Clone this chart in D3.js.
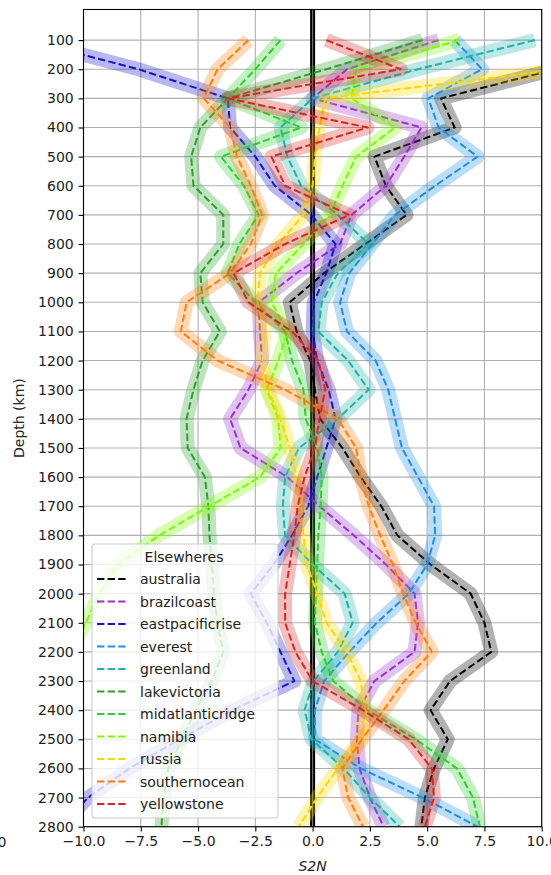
<!DOCTYPE html>
<html>
<head>
<meta charset="utf-8">
<script src="https://cdn.jsdelivr.net/npm/d3@7"></script>
<style>
  body { margin: 0; background: #fff; }
  text { font-family: "DejaVu Sans", sans-serif; }
</style>
</head>
<body>
<svg id="chart" width="551" height="875"></svg>
<script>
// Depth levels (km) shared by every profile
const depths = [100, 200, 300, 400, 500, 600, 700, 800, 900, 1000, 1100, 1200, 1300, 1400,
                1500, 1600, 1700, 1800, 1900, 2000, 2100, 2200, 2300, 2400, 2500, 2600, 2700, 2800];

// S2N profiles per region, one value per depth level
const australia        = [11.5, 10.6, 5.6, 6.2, 2.7, 3.2, 4.1, 2.3, 0.5, -1.0, -0.7, -0.1, 0.1, 0.33, 1.3, 2.1, 3.0, 3.7, 5.15, 6.9, 7.5, 7.8, 6.0, 5.15, 5.9, 5.3, 4.9, 4.75];
const brazilcoast      = [5.5, 1.5, 0.0, 4.75, 4.0, 3.2, 1.7, 1.2, -0.7, -2.35, -2.3, -2.2, -2.8, -3.6, -3.15, -1.1, 0.3, 1.8, 3.2, 4.45, 4.6, 4.45, 2.7, 2.0, 1.93, 2.05, 2.5, 3.1];
const eastpacificrise  = [-12.5, -7.6, -3.7, -3.6, -2.5, -1.65, -0.05, 1.0, 0.6, 0.05, 0.0, 0.2, 0.7, 1.0, 0.6, 0.2, -0.2, -0.9, -1.7, -2.7, -2.0, -1.4, -0.8, -3.5, -5.8, -8.0, -9.8, -11.0];
const everest          = [6.2, 7.4, 5.05, 5.5, 7.2, 5.35, 3.6, 2.6, 1.6, 1.2, 1.5, 2.75, 3.3, 3.6, 3.9, 4.6, 5.3, 5.35, 5.0, 4.2, 2.8, 1.6, 0.5, 0.1, 0.1, 2.1, 4.8, 7.2];
const greenland        = [9.7, 4.6, 0.0, -1.4, -1.1, -0.5, 1.1, 2.45, 1.1, 0.4, 0.25, 1.55, 2.45, 1.1, -0.6, -1.2, -1.3, -1.2, 0.0, 1.4, 1.75, 1.1, 0.05, -0.35, -0.05, 1.35, 2.5, 3.8];
const lakevictoria     = [4.8, 0.6, -3.7, -4.9, -5.3, -5.2, -3.9, -3.9, -4.9, -4.8, -4.05, -4.8, -5.2, -5.5, -5.45, -4.7, -4.55, -4.5, -4.4, -4.3, -4.15, -3.9, -4.4, -5.1, -5.7, -6.3, -6.5, -6.6];
const midatlanticridge = [-1.4, -2.5, -3.7, -0.5, -4.0, -3.0, -2.35, -3.2, -3.7, -2.5, -1.2, -0.9, -0.4, -0.3, 0.2, 0.4, 0.35, 0.25, 0.2, 0.15, 0.1, 0.4, 0.9, 2.4, 4.5, 6.3, 7.0, 7.3];
const namibia          = [6.4, 1.9, 1.7, 3.6, 1.9, 1.3, 0.75, -0.4, -1.6, -1.8, -1.1, -1.5, -2.0, -1.5, -1.4, -2.3, -4.5, -6.7, -8.5, -9.3, -9.9, -10.6, -11.0, -11.3, -11.6, -11.8, -12.0, -12.2];
const russia           = [12.0, 10.9, 0.55, 0.3, 0.1, 0.0, -0.4, -1.5, -2.3, -2.4, -2.1, -2.2, -1.95, -1.4, -1.0, -0.7, -0.5, -0.4, -0.25, 0.2, 0.6, 1.5, 2.1, 2.3, 2.1, 1.1, 0.2, -0.6];
const southernocean    = [-2.8, -4.15, -4.75, -3.6, -3.3, -2.7, -2.2, -2.7, -3.6, -5.5, -5.75, -4.15, -1.2, 1.1, 1.9, 2.1, 2.45, 2.95, 3.5, 3.95, 4.5, 5.2, 4.0, 3.1, 2.15, 1.3, 1.55, 2.2];
const yellowstone      = [0.6, 3.85, -3.7, 2.4, -1.8, -1.2, 1.6, -1.2, -3.45, -2.8, -0.9, 0.25, 0.55, 0.3, 0.1, -0.35, -0.65, -0.8, -1.0, -1.2, -1.2, -0.75, 0.0, 2.2, 4.2, 5.2, 5.3, 4.9];

const siteNames  = ["australia", "brazilcoast", "eastpacificrise", "everest", "greenland", "lakevictoria",
                    "midatlanticridge", "namibia", "russia", "southernocean", "yellowstone"];
const siteValues = [australia, brazilcoast, eastpacificrise, everest, greenland, lakevictoria,
                    midatlanticridge, namibia, russia, southernocean, yellowstone];
const siteColors = ["#000000", "#9932cc", "#1515c8", "#1f8fe0", "#20b2aa", "#2ca02c",
                    "#32cd32", "#7cfc00", "#ffd700", "#ff7f0e", "#d62728"];

const xTicks = [-10, -7.5, -5, -2.5, 0, 2.5, 5, 7.5, 10];
const yTicks = depths;
const legendTitle = "Elsewheres";
const xLabel = "S2N";
const yLabel = "Depth (km)";

// ---- layout ----
const box = { left: 83.5, right: 541.7, top: 9.5, bottom: 826.7 };
const x = d3.scaleLinear().domain([-10, 10]).range([box.left, box.right]);
const y = d3.scaleLinear().domain([-5, 2800]).range([box.top, box.bottom]);
const fmtX = d => d3.format(".1f")(d).replace("-", "\u2212");

const svg = d3.select("#chart");
svg.append("rect").attr("width", 551).attr("height", 875).attr("fill", "#fff");

svg.append("defs").append("clipPath").attr("id", "plotclip")
  .append("rect")
  .attr("x", box.left).attr("y", box.top)
  .attr("width", box.right - box.left).attr("height", box.bottom - box.top);

// grid
const grid = svg.append("g").attr("stroke", "#b0b0b0").attr("stroke-width", 1.1);
grid.selectAll(".gx").data(xTicks).join("line")
  .attr("x1", d => x(d)).attr("x2", d => x(d))
  .attr("y1", box.top).attr("y2", box.bottom);
grid.selectAll(".gy").data(yTicks).join("line")
  .attr("x1", box.left).attr("x2", box.right)
  .attr("y1", d => y(d)).attr("y2", d => y(d));

// profiles: wide translucent band underneath a dashed line
const line = d3.line().x(d => x(d[0])).y(d => y(d[1]));
const plot = svg.append("g").attr("clip-path", "url(#plotclip)");

// zero reference line
plot.append("line")
  .attr("x1", x(0)).attr("x2", x(0)).attr("y1", box.top).attr("y2", box.bottom)
  .attr("stroke", "#000").attr("stroke-width", 5);
plot.append("line")
  .attr("x1", x(0)).attr("x2", x(0)).attr("y1", box.top).attr("y2", box.bottom)
  .attr("stroke", "#777").attr("stroke-width", 1.1);

siteValues.forEach((vals, i) => {
  const pts = vals.map((v, k) => [v, depths[k]]);
  plot.append("path").attr("d", line(pts))
    .attr("fill", "none").attr("stroke", siteColors[i])
    .attr("stroke-opacity", 0.3).attr("stroke-width", 14)
    .attr("stroke-linejoin", "round").attr("stroke-linecap", "butt");
  plot.append("path").attr("d", line(pts))
    .attr("fill", "none").attr("stroke", siteColors[i])
    .attr("stroke-width", 2).attr("stroke-dasharray", "7.4,3.2")
    .attr("stroke-linejoin", "round");
});

// axes
const xAxis = d3.axisBottom(x).tickValues(xTicks).tickFormat(fmtX).tickSize(4.9).tickPadding(4.9);
const yAxis = d3.axisLeft(y).tickValues(yTicks).tickFormat(d3.format("d")).tickSize(4.9).tickPadding(4.9);
const gx = svg.append("g").attr("transform", `translate(0,${box.bottom})`).call(xAxis);
const gy = svg.append("g").attr("transform", `translate(${box.left},0)`).call(yAxis);
[gx, gy].forEach(g => {
  g.select(".domain").remove();
  g.selectAll(".tick line").attr("stroke", "#000").attr("stroke-width", 1.1);
  g.selectAll(".tick text").attr("fill", "#222").attr("font-size", 14)
    .attr("font-family", "DejaVu Sans");
});

// spines
svg.append("rect")
  .attr("x", box.left).attr("y", box.top)
  .attr("width", box.right - box.left).attr("height", box.bottom - box.top)
  .attr("fill", "none").attr("stroke", "#000").attr("stroke-width", 1.1);

// neighbouring panel's tick label, cut at the page edge
svg.append("text").attr("x", 6.5).attr("y", 847).attr("text-anchor", "end")
  .attr("font-size", 14).attr("fill", "#222").text(fmtX(10));

// axis titles
svg.append("text").attr("x", x(0)).attr("y", 871).attr("text-anchor", "middle")
  .attr("font-size", 14).attr("font-style", "italic").attr("fill", "#222").text(xLabel);
svg.append("text")
  .attr("transform", `translate(24,${(box.top + box.bottom) / 2}) rotate(-90)`)
  .attr("text-anchor", "middle").attr("font-size", 14).attr("fill", "#222").text(yLabel);

// legend
const lg = svg.append("g");
lg.append("rect").attr("x", 92).attr("y", 544).attr("width", 186).attr("height", 274)
  .attr("rx", 3).attr("fill", "#fff").attr("fill-opacity", 0.8)
  .attr("stroke", "#cccccc").attr("stroke-width", 1.1);
lg.append("text").attr("x", 184).attr("y", 561.5).attr("text-anchor", "middle")
  .attr("font-size", 14).attr("fill", "#222").text(legendTitle);
const rows = lg.selectAll(".row").data(siteNames).join("g")
  .attr("transform", (d, i) => `translate(0,${579 + i * 22.5})`);
rows.append("line").attr("x1", 97).attr("x2", 127).attr("y1", 0).attr("y2", 0)
  .attr("stroke", (d, i) => siteColors[i]).attr("stroke-width", 2)
  .attr("stroke-dasharray", "7.4,3.2");
rows.append("text").attr("x", 140).attr("y", 5).attr("font-size", 14)
  .attr("fill", "#222").text(d => d);
</script>
</body>
</html>
